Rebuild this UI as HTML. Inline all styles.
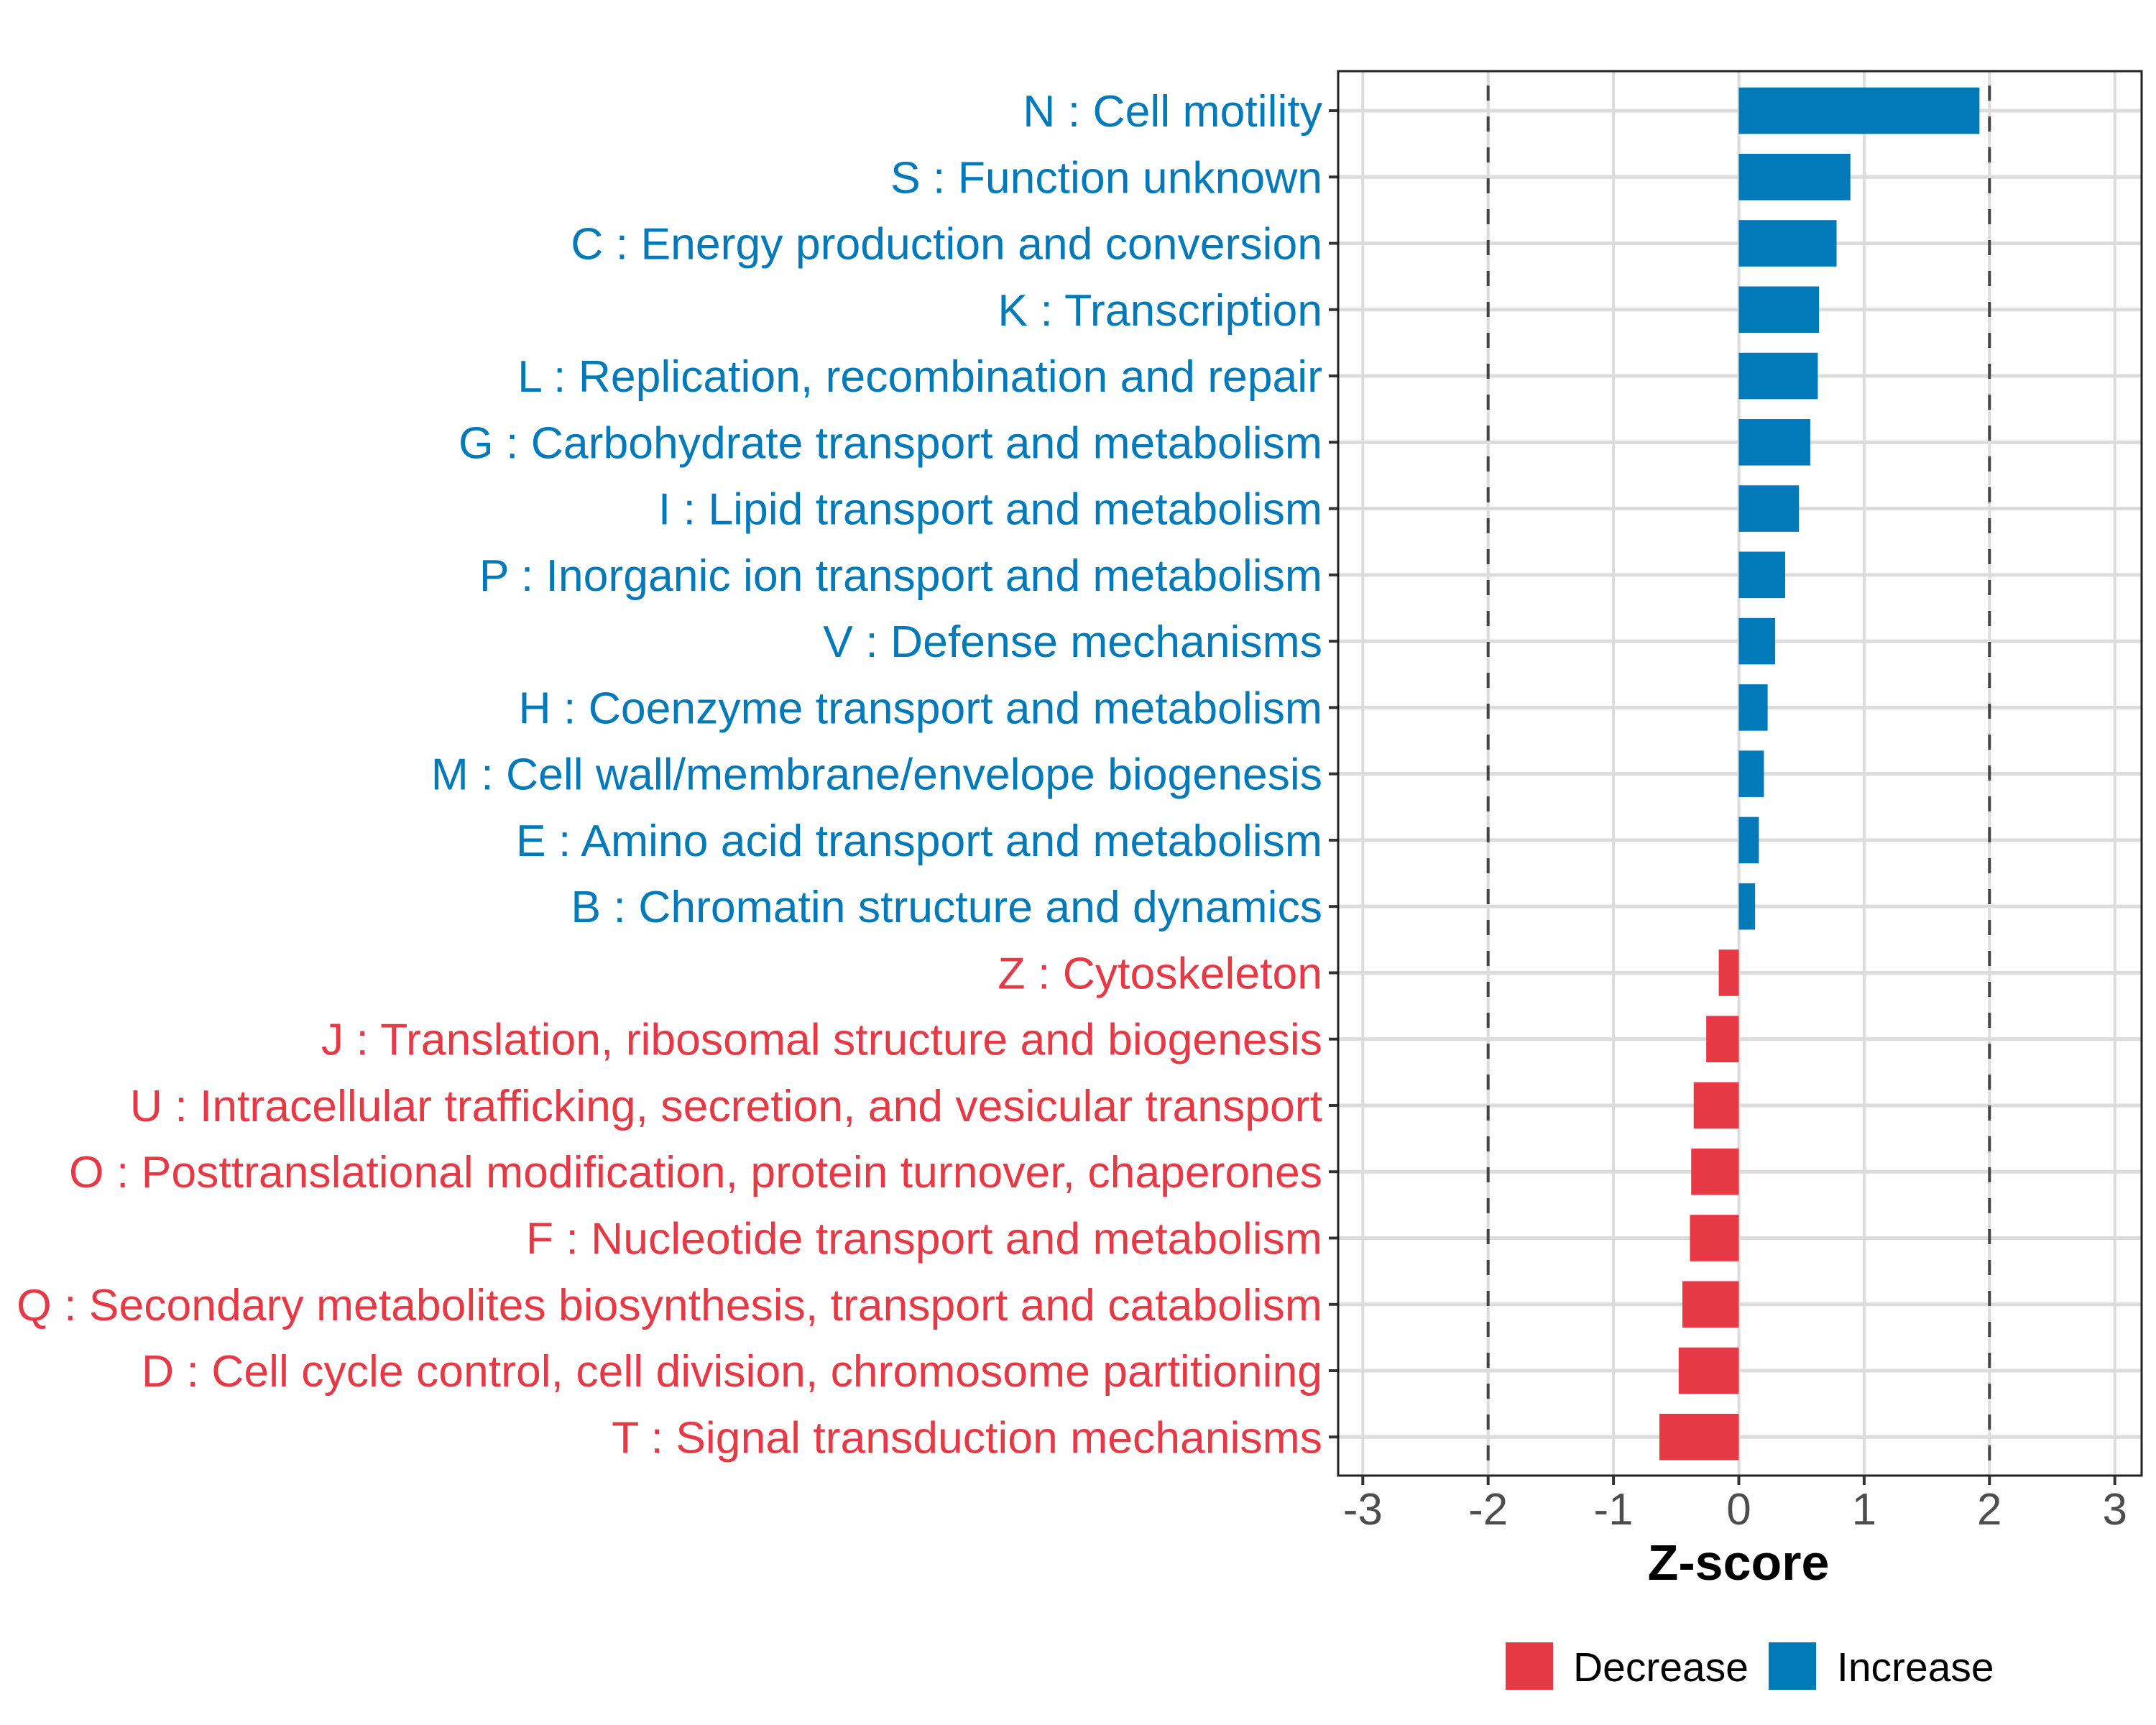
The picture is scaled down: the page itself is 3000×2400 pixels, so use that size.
<!DOCTYPE html>
<html><head><meta charset="utf-8"><style>
html,body{margin:0;padding:0;background:#fff}
svg{display:block;font-family:"Liberation Sans",Arial,sans-serif}
</style></head><body>
<svg id="chart" width="3000" height="2400" viewBox="0 0 3000 2400" xmlns="http://www.w3.org/2000/svg">
<rect x="0" y="0" width="3000" height="2400" fill="#fff"/>
<g id="grid"></g>
<g id="bars"></g>
<g id="axes"></g>
<text x="2419" y="2198" font-size="70" font-weight="bold" text-anchor="middle" fill="#000">Z-score</text>
<g>
<g>
<rect x="2095" y="2285" width="66" height="66" fill="#E63946"/>
<text x="2189" y="2339" font-size="57" fill="#000">Decrease</text>
</g>
<g>
<rect x="2461" y="2285" width="66" height="66" fill="#0279B8"/>
<text x="2556" y="2339" font-size="57" fill="#000">Increase</text>
</g>
</g>
</svg>
<script>
const categories = ["N : Cell motility","S : Function unknown","C : Energy production and conversion","K : Transcription","L : Replication, recombination and repair","G : Carbohydrate transport and metabolism","I : Lipid transport and metabolism","P : Inorganic ion transport and metabolism","V : Defense mechanisms","H : Coenzyme transport and metabolism","M : Cell wall/membrane/envelope biogenesis","E : Amino acid transport and metabolism","B : Chromatin structure and dynamics","Z : Cytoskeleton","J : Translation, ribosomal structure and biogenesis","U : Intracellular trafficking, secretion, and vesicular transport","O : Posttranslational modification, protein turnover, chaperones","F : Nucleotide transport and metabolism","Q : Secondary metabolites biosynthesis, transport and catabolism","D : Cell cycle control, cell division, chromosome partitioning","T : Signal transduction mechanisms"];
const zscores = [1.92,0.89,0.78,0.64,0.63,0.57,0.48,0.37,0.29,0.23,0.20,0.16,0.13,-0.16,-0.26,-0.36,-0.38,-0.39,-0.45,-0.48,-0.634];
const xTicks = [-3,-2,-1,0,1,2,3];
const xTickLabels = ["-3","-2","-1","0","1","2","3"];
const thresholds = [-2,2];

const NS="http://www.w3.org/2000/svg";
const L=1862,R=2980,T=99,B=2053;
const x0=2419.5, unit=174.4;
function xs(v){return x0+v*unit;}
const step=(1999.3-154)/(categories.length-1);
function ys(i){return 154+i*step;}
const BLUE="#0279B8", RED="#E63946";
function mk(tag,attrs,parent){const e=document.createElementNS(NS,tag);for(const k in attrs)e.setAttribute(k,attrs[k]);parent.appendChild(e);return e;}
const grid=document.getElementById('grid'),bars=document.getElementById('bars'),axes=document.getElementById('axes');

xTicks.forEach((t,i)=>{
  const l=mk('line',{x1:xs(t),x2:xs(t),y1:T,y2:B,stroke:'#dcdcdc','stroke-width':4},grid);
  
  
});
categories.forEach((c,i)=>{
  const l=mk('line',{x1:L,x2:R,y1:ys(i),y2:ys(i),stroke:'#dcdcdc','stroke-width':5},grid);
  
  
});
thresholds.forEach(t=>{
  const l=mk('line',{x1:xs(t),x2:xs(t),y1:T,y2:B,stroke:'#454545','stroke-width':4,'stroke-dasharray':'21 22','stroke-dashoffset':'-20'},grid);
  
  
});
const bh=step*0.7;
categories.forEach((c,i)=>{
  const v=zscores[i];
  const col=v>=0?BLUE:RED;
  const r=mk('rect',{x:Math.min(xs(0),xs(v)),y:ys(i)-bh/2,width:Math.abs(xs(v)-xs(0)),height:bh,fill:col},bars);
  
  
  const tk=mk('line',{x1:L-13,x2:L,y1:ys(i),y2:ys(i),stroke:'#333','stroke-width':4},axes);
  
  
  const tx=mk('text',{x:L-22,y:ys(i)+22,'font-size':62.5,'text-anchor':'end',fill:col},axes);
  tx.textContent=c;
  
  
});
const frame=mk('rect',{x:L,y:T,width:R-L,height:B-T,fill:'none',stroke:'#222','stroke-width':3},axes);


xTicks.forEach((t,i)=>{
  const tk=mk('line',{x1:xs(t),x2:xs(t),y1:B,y2:B+13,stroke:'#333','stroke-width':4},axes);
  
  
  const tx=mk('text',{x:xs(t),y:2121,'font-size':62,'text-anchor':'middle',fill:'#4d4d4d'},axes);
  tx.textContent=xTickLabels[i];
  
  
});
</script>
</body></html>
